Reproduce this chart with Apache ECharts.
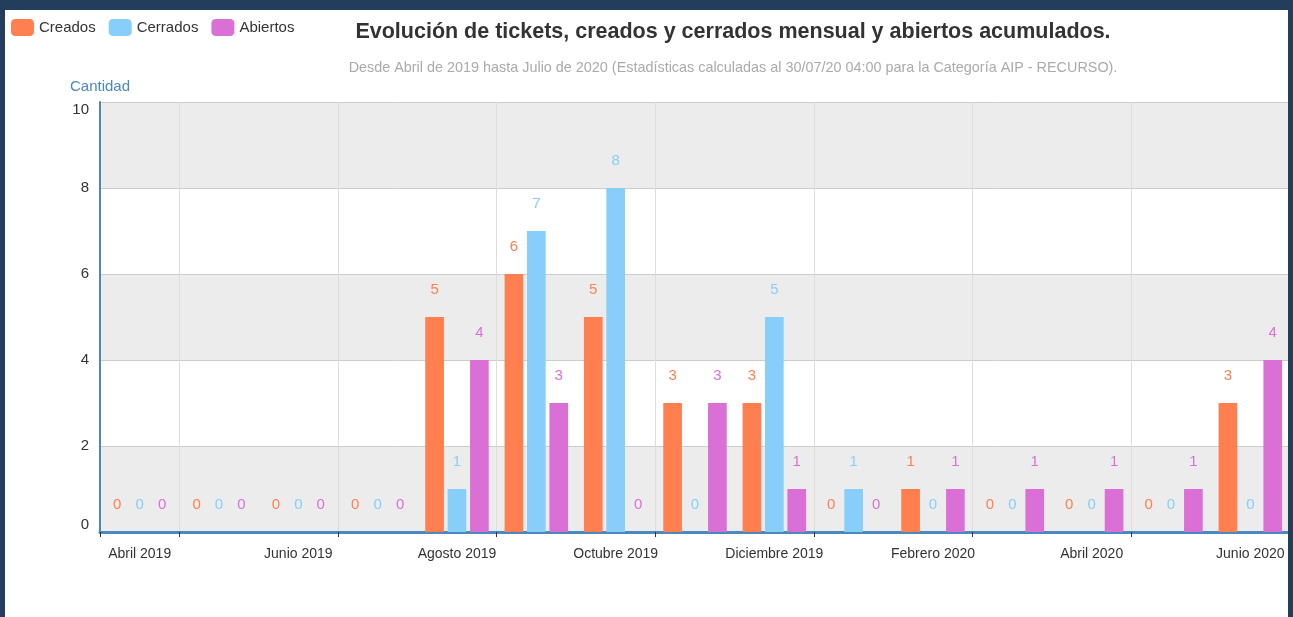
<!DOCTYPE html>
<html><head><meta charset="utf-8">
<script src="https://cdn.jsdelivr.net/npm/echarts@6/dist/echarts.min.js"></script>
<style>
html,body{margin:0;padding:0;background:#fff;width:1293px;height:617px;overflow:hidden}
#chart{position:absolute;left:0;top:0;width:1293px;height:617px;background:#fff}
.b{position:absolute;background:#233d5d;z-index:10}
</style></head><body>
<div id="chart"></div>
<div class="b" style="left:0;top:0;width:1293px;height:10px"></div>
<div class="b" style="left:0;top:0;width:5px;height:617px"></div>
<div class="b" style="left:1288px;top:0;width:5px;height:617px"></div>
<script>
const titleText = 'Evolución de tickets, creados y cerrados mensual y abiertos acumulados.';
const subtitleText = 'Desde Abril de 2019 hasta Julio de 2020 (Estadísticas calculadas al 30/07/20 04:00 para la Categoría AIP - RECURSO).';
const categories = ['Abril 2019','Mayo 2019','Junio 2019','Julio 2019','Agosto 2019','Septiembre 2019','Octubre 2019','Noviembre 2019','Diciembre 2019','Enero 2020','Febrero 2020','Marzo 2020','Abril 2020','Mayo 2020','Junio 2020'];
const seriesNames = ['Creados','Cerrados','Abiertos'];
const creados  = [0,0,0,0,5,6,5,3,3,0,1,0,0,0,3];
const cerrados = [0,0,0,0,1,7,8,0,5,1,0,0,0,0,0];
const abiertos = [0,0,0,0,4,3,0,3,1,0,1,1,1,1,4];
const colors = ['#FF7F50','#87CEFA','#DA70D6'];
const yMin = 0, yMax = 10, yStep = 2;

const FONT = 'Liberation Sans, Arial, Helvetica, sans-serif';
const chart = echarts.init(document.getElementById('chart'), null, {renderer:'canvas'});
const mk = (name, data, color) => ({
  name, type:'bar', data, barGap:'20%', barCategoryGap:'20%',
  itemStyle:{color},
  label:{show:true, position:'top', distance:20, color, fontSize:15, fontFamily:FONT}
});
chart.setOption({
  animation:false,
  textStyle:{fontFamily:FONT},
  color: colors,
  title:{
    text:titleText, subtext:subtitleText,
    left:728, top:16, textAlign:'center', itemGap:18,
    textStyle:{fontSize:21.5, fontWeight:'bold', color:'#333', fontFamily:FONT},
    subtextStyle:{fontSize:14.4, color:'#aaa', fontFamily:FONT}
  },
  legend:{
    data:seriesNames, left:11, top:19, padding:0,
    icon:'roundRect', itemWidth:23, itemHeight:17, itemGap:13,
    textStyle:{fontSize:15, color:'#333', fontFamily:FONT}
  },
  grid:{left:100, top:102, right:3, bottom:85, containLabel:false},
  xAxis:{
    type:'category', data:categories, boundaryGap:true, offset:2,
    axisLine:{lineStyle:{color:'#4a88c0', width:3}},
    axisTick:{show:true, length:5, interval:(i)=> i===0 || i%2===1, lineStyle:{color:'#333'}},
    axisLabel:{interval:1, fontSize:14, color:'#333', margin:13, fontFamily:FONT},
    splitLine:{show:true, interval:(i)=> i%2===1, lineStyle:{color:'#ddd', width:1}}
  },
  yAxis:{
    type:'value', min:yMin, max:yMax, interval:yStep,
    name:'Cantidad', nameLocation:'end', nameGap:8,
    nameTextStyle:{color:'#4a88c0', fontSize:15, fontFamily:FONT, align:'center'},
    axisLine:{show:true, lineStyle:{color:'#4a88c0', width:2}},
    axisTick:{show:false},
    axisLabel:{fontSize:15, color:'#333', margin:11, fontFamily:FONT,
      verticalAlignMinLabel:'bottom', verticalAlignMaxLabel:'top'},
    splitLine:{show:true, lineStyle:{color:'#ccc', width:1}},
    splitArea:{show:true, areaStyle:{color:['#ececec','#ffffff']}}
  },
  series:[
    mk(seriesNames[0], creados, colors[0]),
    mk(seriesNames[1], cerrados, colors[1]),
    mk(seriesNames[2], abiertos, colors[2])
  ]
});
</script>
</body></html>
